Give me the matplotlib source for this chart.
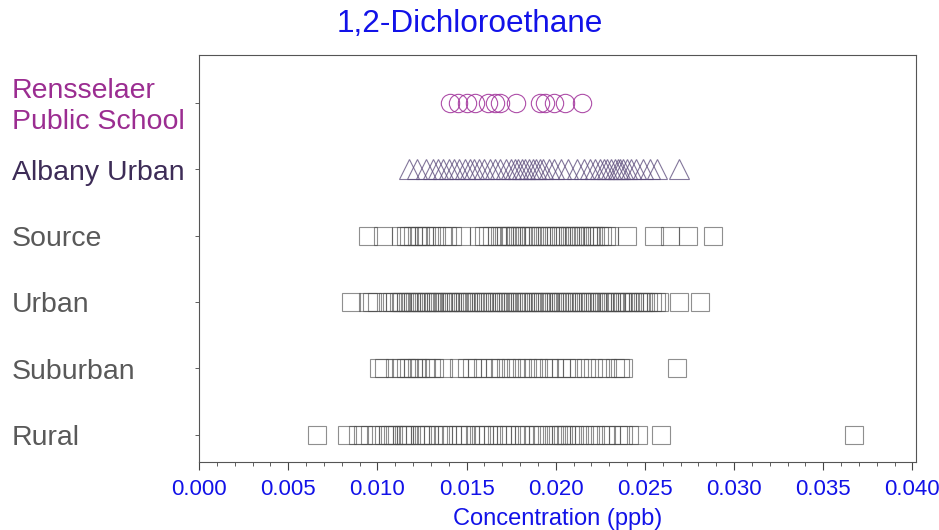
import matplotlib
matplotlib.use("Agg")
import matplotlib.pyplot as plt
from matplotlib.transforms import blended_transform_factory, offset_copy

plt.rcParams['font.family'] = ['Liberation Sans', 'DejaVu Sans']

categories = ["Rural", "Suburban", "Urban", "Source", "Albany Urban", "Rensselaer\nPublic School"]

rensselaer = [0.0141, 0.0145, 0.0150, 0.0155, 0.0162, 0.0166, 0.0169, 0.0178,
              0.0191, 0.0194, 0.0199, 0.0205, 0.0215]

albany = [0.0118, 0.0122, 0.0127, 0.0131, 0.0134, 0.0137, 0.0140, 0.0143, 0.0146,
          0.0149, 0.0152, 0.0154, 0.0157, 0.0160, 0.0163, 0.0166, 0.0169, 0.0172,
          0.0175, 0.0177, 0.0179, 0.0181, 0.0183, 0.0185, 0.0187, 0.0189, 0.0191,
          0.0193, 0.0196, 0.0199, 0.0203, 0.0207, 0.0212, 0.0216, 0.0219, 0.0222,
          0.0225, 0.0227, 0.0229, 0.0231, 0.0233, 0.0235, 0.0236, 0.0238, 0.0240,
          0.0242, 0.0245, 0.0249, 0.0253, 0.0257, 0.0269]

source = [0.0095, 0.0103, 0.0113, 0.0116, 0.0118, 0.0120, 0.0122, 0.0124, 0.0126,
          0.0127, 0.0130, 0.0133, 0.0136, 0.0139, 0.0142, 0.0147, 0.0157, 0.0160,
          0.0162, 0.0164, 0.0167, 0.0169, 0.0171, 0.0172, 0.0174, 0.0175, 0.0177,
          0.0178, 0.0180, 0.0181, 0.0183, 0.0185, 0.0186, 0.0188, 0.0190, 0.0192,
          0.0194, 0.0195, 0.0197, 0.0199, 0.0200, 0.0202, 0.0203, 0.0205, 0.0207,
          0.0208, 0.0210, 0.0211, 0.0213, 0.0214, 0.0216, 0.0218, 0.0219, 0.0221,
          0.0222, 0.0224, 0.0226, 0.0228, 0.0230, 0.0240, 0.0255, 0.0264, 0.0274,
          0.0288]

urban = [0.0085, 0.0095, 0.0097, 0.0100, 0.0106, 0.0108, 0.0110, 0.0112, 0.0113,
         0.0114, 0.0116, 0.0117, 0.0119, 0.0120, 0.0121, 0.0123, 0.0124, 0.0125,
         0.0127, 0.0128, 0.0129, 0.0131, 0.0132, 0.0133, 0.0134, 0.0136, 0.0137,
         0.0139, 0.0140, 0.0141, 0.0142, 0.0144, 0.0145, 0.0147, 0.0148, 0.0149,
         0.0151, 0.0152, 0.0153, 0.0155, 0.0156, 0.0158, 0.0159, 0.0160, 0.0161,
         0.0163, 0.0164, 0.0166, 0.0167, 0.0168, 0.0170, 0.0171, 0.0172, 0.0173,
         0.0175, 0.0176, 0.0178, 0.0179, 0.0180, 0.0181, 0.0183, 0.0184, 0.0185,
         0.0187, 0.0188, 0.0190, 0.0191, 0.0192, 0.0193, 0.0195, 0.0196, 0.0197,
         0.0199, 0.0200, 0.0202, 0.0203, 0.0204, 0.0206, 0.0207, 0.0208, 0.0209,
         0.0211, 0.0212, 0.0214, 0.0215, 0.0216, 0.0218, 0.0219, 0.0220, 0.0222,
         0.0223, 0.0224, 0.0226, 0.0227, 0.0229, 0.0230, 0.0231, 0.0233, 0.0234,
         0.0236, 0.0237, 0.0238, 0.0240, 0.0241, 0.0243, 0.0244, 0.0246, 0.0247,
         0.0249, 0.0250, 0.0252, 0.0254, 0.0256, 0.0258, 0.0269, 0.0281]

suburban = [0.0101, 0.0104, 0.0110, 0.0113, 0.0116, 0.0118, 0.0120, 0.0122, 0.0124,
            0.0127, 0.0130, 0.0132, 0.0137, 0.0146, 0.0150, 0.0153, 0.0156, 0.0159,
            0.0163, 0.0166, 0.0169, 0.0172, 0.0175, 0.0178, 0.0181, 0.0184, 0.0187,
            0.0190, 0.0193, 0.0196, 0.0199, 0.0203, 0.0206, 0.0209, 0.0213, 0.0217,
            0.0221, 0.0225, 0.0229, 0.0233, 0.0236, 0.0238, 0.0268]

rural = [0.0066, 0.0083, 0.0089, 0.0092, 0.0096, 0.0100, 0.0104, 0.0106, 0.0107,
         0.0109, 0.0111, 0.0114, 0.0115, 0.0116, 0.0118, 0.0121, 0.0124, 0.0125,
         0.0127, 0.0129, 0.0131, 0.0134, 0.0137, 0.0139, 0.0142, 0.0145, 0.0147,
         0.0149, 0.0152, 0.0155, 0.0158, 0.0160, 0.0162, 0.0165, 0.0167, 0.0170,
         0.0172, 0.0174, 0.0177, 0.0180, 0.0182, 0.0185, 0.0188, 0.0190, 0.0193,
         0.0196, 0.0199, 0.0201, 0.0203, 0.0204, 0.0206, 0.0208, 0.0210, 0.0213,
         0.0216, 0.0219, 0.0222, 0.0225, 0.0228, 0.0231, 0.0235, 0.0238, 0.0241,
         0.0246, 0.0259, 0.0367]

xticks = [0.000, 0.005, 0.010, 0.015, 0.020, 0.025, 0.030, 0.035, 0.040]
xtick_labels = ["0.000", "0.005", "0.010", "0.015", "0.020", "0.025", "0.030", "0.035", "0.040"]

fig = plt.figure(figsize=(9.39, 5.30), dpi=100)
ax = fig.add_axes([199/939, 1 - 462/530, (916 - 199)/939, (462 - 55)/530])

series = [rural, suburban, urban, source, albany, rensselaer]
markers = ['s', 's', 's', 's', '^', 'o']
mcolors = ['#4a4a4a', '#4a4a4a', '#4a4a4a', '#4a4a4a', '#5a4a7a', '#a0309a']
msizes = [13.2, 13.2, 13.2, 13.2, 14, 13.2]
alphas = [0.62, 0.62, 0.62, 0.62, 0.75, 0.85]
for i, vals in enumerate(series):
    ax.plot(vals, [i] * len(vals), linestyle='none', marker=markers[i],
            mfc='none', mec=mcolors[i], ms=msizes[i], mew=0.8, alpha=alphas[i])

ax.set_xlim(0, 0.0402)
ax.set_ylim(-0.41, 5.72)
ax.set_xticks(xticks)
ax.set_xticklabels(xtick_labels, color='#1212e8', fontsize=16)
ax.set_xticks([i * 0.001 for i in range(41)], minor=True)
ax.tick_params(axis='x', which='major', length=6, width=0.8, color='#444444', pad=6)
ax.tick_params(axis='x', which='minor', length=3, width=0.6, color='#444444')
ax.set_yticks(range(len(categories)))
ax.set_yticklabels([])
ax.tick_params(axis='y', length=3, width=0.6, color='#444444')
for sp in ax.spines.values():
    sp.set_color('#555555')
    sp.set_linewidth(0.8)

ax.set_xlabel("Concentration (ppb)", color='#1212e8', fontsize=17, labelpad=6)

label_colors = ['#595959', '#595959', '#595959', '#595959', '#3d2c57', '#9b2d91']
trans = offset_copy(blended_transform_factory(fig.transFigure, ax.transData),
                    fig=fig, x=0, y=-3.5, units='dots')
for i, name in enumerate(categories):
    ax.text(12/939, i, name, transform=trans, ha='left', va='center',
            fontsize=20.5, color=label_colors[i], linespacing=1.22)

fig.text(0.5, 1 - 24/530, "1,2-Dichloroethane", ha='center', va='center',
         fontsize=22.7, color='#1212e8')

fig.savefig("out.png", dpi=100)
